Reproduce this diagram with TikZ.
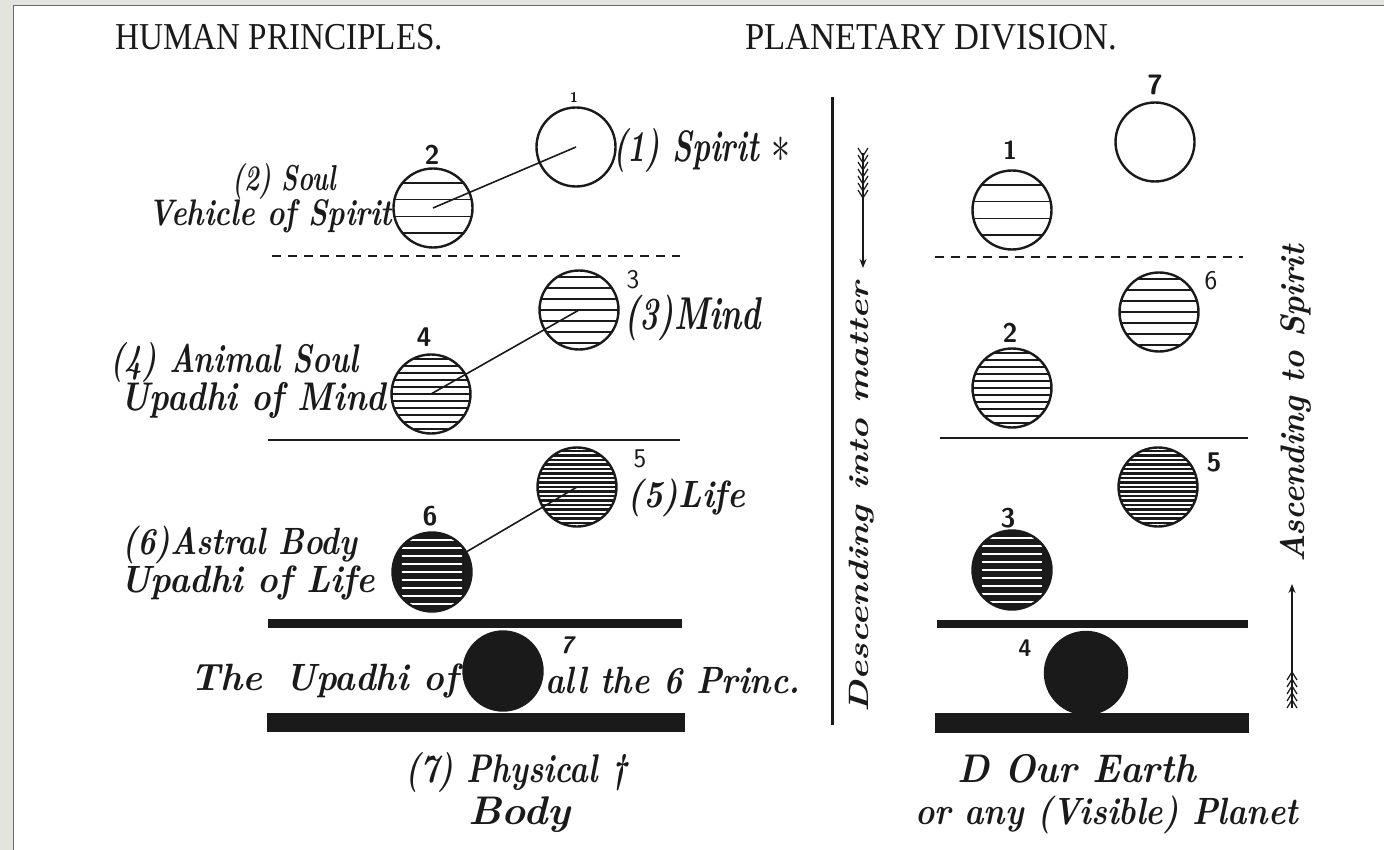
\documentclass[tikz,border=0pt]{standalone}
\usepackage{graphicx}
\usepackage{fontspec}
\newfontfamily\headfont{Liberation Serif}
\usetikzlibrary{arrows.meta}
\definecolor{ink}{HTML}{1A1A1A}
\definecolor{framegray}{HTML}{E4E4DE}
\definecolor{frameline}{HTML}{6A6A6A}
\newcommand\wfit[3]{\resizebox{#1}{\height}{\fontsize{#2}{#2}\selectfont #3}}
\newcommand\bigstar{\raisebox{-1pt}{\scalebox{2.2}{$\ast$}}}
\tikzset{
  lbl/.style={inner sep=0pt, anchor=base west, text=ink, font=\bfseries\itshape},
  head/.style={inner sep=0pt, anchor=base west, text=ink, font=\headfont},
  num/.style={inner sep=0pt, text=ink, font=\sffamily\bfseries},
  orb/.style={circle, draw=ink, line width=2.4pt, minimum size=79pt, inner sep=0pt},
  sparse/.style={path picture={\foreach \d in {-25,-8.5,8.5,25}{\draw[ink,line width=1.4pt] ([xshift=-45pt,yshift=\d pt]path picture bounding box.center) -- ++(90pt,0);}}},
  medium/.style={path picture={\foreach \d in {-33,-22,...,33}{\draw[ink,line width=1.5pt] ([xshift=-45pt,yshift=\d pt]path picture bounding box.center) -- ++(90pt,0);}}},
  dense/.style={path picture={\foreach \d in {-35,-28,...,35}{\draw[ink,line width=1.6pt] ([xshift=-45pt,yshift=\d pt]path picture bounding box.center) -- ++(90pt,0);}}},
  denser/.style={path picture={\foreach \d in {-36,-31.5,...,36}{\draw[ink,line width=2.5pt] ([xshift=-45pt,yshift=\d pt]path picture bounding box.center) -- ++(90pt,0);}}},
  darkorb/.style={fill=ink, path picture={\foreach \d in {-32,-24,...,32}{\draw[white,line width=1.6pt] ([xshift=-30pt,yshift=\d pt]path picture bounding box.center) -- ++(60pt,0);}}},
  blackorb/.style={fill=ink},
  link/.style={draw=ink, line width=1.6pt},
  rule/.style={draw=ink},
}
\begin{document}
\begin{tikzpicture}[x=1pt,y=-1pt]
\useasboundingbox (0,0) rectangle (1384,850);
\fill[white] (0,0) rectangle (1384,850);
% frame
\fill[framegray] (0,0) rectangle (13,850);
\fill[framegray] (0,0) rectangle (1384,5);
\draw[frameline, line width=1.5pt] (13.5,850) -- (13.5,5.5) -- (1384,5.5);

% headings
\node[head] (h1) at (115,50) {\wfit{328pt}{38}{HUMAN PRINCIPLES.}};
\node[head] (h2) at (745,50) {\wfit{372pt}{38}{PLANETARY DIVISION.}};

% rules left
\draw[rule, line width=1.5pt, dash pattern=on 9pt off 7pt] (272,256) -- (680,256);
\draw[rule, line width=2pt] (268,440) -- (680,440);
\draw[rule, line width=9pt] (268,623) -- (682,623);
\draw[rule, line width=19pt] (267,722) -- (685,722);
% rules right
\draw[rule, line width=1.5pt, dash pattern=on 9pt off 7pt] (935,257) -- (1243,257);
\draw[rule, line width=2pt] (940,438) -- (1248,438);
\draw[rule, line width=8pt] (937,624) -- (1248,624);
\draw[rule, line width=20pt] (935,723) -- (1249,723);
% vertical divider
\draw[rule, line width=2.5pt] (832.5,97) -- (832.5,725);

% left circles
\node[orb] (c1) at (576,147) {};
\node[orb, sparse] (c2) at (433,208) {};
\node[orb, medium] (c3) at (579,310) {};
\node[orb, dense] (c4) at (431,394) {};
\node[orb, denser] (c5) at (577,487) {};
\node[orb, darkorb] (c6) at (432,572) {};
\node[orb, blackorb] (c7) at (503,671) {};
\draw[link] (c2.center) -- (c1.center);
\draw[link] (c4.center) -- (c3.center);
\draw[link] (c6) -- (c5.center);

% right circles
\node[orb] (p7) at (1155,142) {};
\node[orb, sparse] (p1) at (1012,210) {};
\node[orb, medium] (p6) at (1159,312) {};
\node[orb, dense] (p2) at (1012,388) {};
\node[orb, denser] (p5) at (1158,487) {};
\node[orb, darkorb] (p3) at (1012,570) {};
\node[orb, blackorb, minimum size=82pt] (p4) at (1086,673) {};

% numbers left
\node[num, font=\sffamily\bfseries\fontsize{14}{14}\selectfont] (n1) at (574,97) {1};
\node[num, font=\sffamily\bfseries\fontsize{27}{27}\selectfont] (n2) at (432,155) {2};
\node[num, font=\sffamily\fontsize{27}{27}\selectfont] (n3) at (633,280) {3};
\node[num, font=\sffamily\bfseries\fontsize{27}{27}\selectfont] (n4) at (424,337) {4};
\node[num, font=\sffamily\fontsize{27}{27}\selectfont] (n5) at (640,459) {5};
\node[num, font=\sffamily\bfseries\fontsize{27}{27}\selectfont] (n6) at (430,516) {6};
\node[num, font=\sffamily\bfseries\itshape\fontsize{24}{24}\selectfont] (n7) at (567,645) {7};
% numbers right
\node[num, font=\sffamily\bfseries\fontsize{28}{28}\selectfont] (m7) at (1155,85) {7};
\node[num, font=\sffamily\bfseries\fontsize{26}{26}\selectfont] (m1) at (1010,150) {1};
\node[num, font=\sffamily\fontsize{27}{27}\selectfont] (m6) at (1211,281) {6};
\node[num, font=\sffamily\bfseries\fontsize{27}{27}\selectfont] (m2) at (1010,333) {2};
\node[num, font=\sffamily\bfseries\fontsize{27}{27}\selectfont] (m5) at (1214,462) {5};
\node[num, font=\sffamily\bfseries\fontsize{27}{27}\selectfont] (m3) at (1008,518) {3};
\node[num, font=\sffamily\bfseries\fontsize{24}{24}\selectfont] (m4) at (1025,648) {4};

% left labels
\node[lbl] (t1) at (613,162) {\wfit{177pt}{44}{(1) Spirit \bigstar}};
\node[lbl] (t2a) at (232,191) {\wfit{104pt}{36}{(2) Soul}};
\node[lbl] (t2b) at (148,226) {\wfit{244pt}{37}{Vehicle of Spirit}};
\node[lbl] (t3) at (624,330) {\wfit{137pt}{46}{(3)Mind}};
\node[lbl] (t4a) at (110,372) {\wfit{248pt}{40}{(4) Animal Soul}};
\node[lbl] (t4b) at (120,410) {\wfit{266pt}{40}{Upadhi of Mind}};
\node[lbl] (t5) at (627,507) {\wfit{118pt}{38}{(5)Life}};
\node[lbl] (t6a) at (122,554) {\wfit{235pt}{38}{(6)Astral Body}};
\node[lbl] (t6b) at (120,592) {\wfit{255pt}{38}{Upadhi of Life}};
\node[lbl] (t7a) at (190,690) {\wfit{72pt}{38}{The}};
\node[lbl] (t7b) at (285,690) {\wfit{173pt}{38}{Upadhi of}};
\node[lbl] (t7c) at (545,693) {\wfit{255pt}{38}{all the 6 Princ.}};
\node[lbl] (t8a) at (405,782) {\wfit{222pt}{40}{(7) Physical \textdagger}};
\node[lbl] (t8b) at (468,824) {\wfit{102pt}{40}{Body}};
% right labels
\node[lbl] (r1) at (957,782) {\wfit{239pt}{40}{D Our Earth}};
\node[lbl] (r2) at (915,824) {\wfit{383pt}{38}{or any (Visible) Planet}};

% rotated texts
\node[lbl, rotate=90] (d1) at (868,713) {\wfit{431pt}{28}{Descending into matter}};
\node[lbl, rotate=90] (d2) at (1304,563) {\wfit{318pt}{34}{Ascending to Spirit}};

% descending arrow
\coordinate (da) at (863,153);
\coordinate (db) at (863,268);
\draw[ink, line width=1.3pt, -{Stealth[length=9pt,width=7pt]}] (da) -- (db);
\foreach \yy in {156,163,...,198}{
  \draw[ink, line width=1.2pt] ([xshift=-5pt,yshift=8pt]863,\yy) -- (863,\yy) -- ([xshift=5pt,yshift=8pt]863,\yy);
}
% ascending arrow
\coordinate (ua) at (1292,708);
\coordinate (ub) at (1292,584);
\draw[ink, line width=1.3pt, -{Stealth[length=9pt,width=7pt]}] (ua) -- (ub);
\foreach \yy in {672,679,...,706}{
  \draw[ink, line width=1.2pt] ([xshift=-5pt,yshift=-8pt]1292,\yy) -- (1292,\yy) -- ([xshift=5pt,yshift=-8pt]1292,\yy);
}
\end{tikzpicture}
\end{document}
